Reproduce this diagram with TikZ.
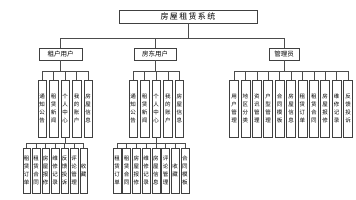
\documentclass[tikz,border=0pt]{standalone}
\usepackage{fontspec}
\setmainfont{Noto Sans CJK SC}
\usepackage{tikz}
\usetikzlibrary{positioning,calc}

\begin{document}
\begin{tikzpicture}[
    x=1pt, y=1pt,
    box/.style={draw=black!75, line width=0.5pt, inner sep=0pt, align=center},
    topbox/.style={box, minimum width=138, minimum height=13, font=\fontsize{8}{9}\selectfont},
    rolebox/.style={box, minimum height=12, font=\fontsize{6.5}{7}\selectfont},
    vbox/.style={box, minimum width=8.5, minimum height=57, font=\fontsize{5.5}{8}\selectfont},
    subbox/.style={box, minimum width=7.5, minimum height=45, font=\fontsize{5.5}{8}\selectfont},
    link/.style={draw=black!70, line width=0.5pt},
  ]
    \useasboundingbox (0,0) rectangle (356,200);

    % root and the three roles
    \node[topbox] (sys) at (188,183.5) {房\,屋\,租\,赁\,系\,统};
    \node[rolebox, minimum width=43] (ten) at (60.5,146) {租户用户};
    \node[rolebox, minimum width=42] (own) at (155,146) {房东用户};
    \node[rolebox, minimum width=30] (adm) at (284,146) {管理员};
    \foreach \r in {ten,own,adm}
      \draw[link] (sys.south) -- ++(0,-15) -| (\r.north);

    % tenant menu
    \foreach \i/\txt in {1/{通\\知\\公\\告}, 2/{租\\赁\\新\\闻}, 3/{个\\人\\中\\心},
                         4/{我\\的\\账\\户}, 5/{房\\屋\\信\\息}} {
      \node[vbox] (ten\i) at ({42+11.5*(\i-1)},91.5) {\txt};
      \draw[link] (ten.south) -- ++(0,-11) -| (ten\i.north);
    }

    % landlord menu
    \foreach \i/\txt in {1/{通\\知\\公\\告}, 2/{租\\赁\\新\\闻}, 3/{个\\人\\中\\心},
                         4/{我\\的\\账\\户}, 5/{房\\屋\\信\\息}} {
      \node[vbox] (own\i) at ({133+11.6*(\i-1)},91.5) {\txt};
      \draw[link] (own.south) -- ++(0,-11) -| (own\i.north);
    }

    % admin menu
    \foreach \i/\txt in {1/{用\\户\\管\\理}, 2/{地\\区\\分\\类}, 3/{资\\讯\\管\\理},
                         4/{户\\型\\管\\理}, 5/{合\\同\\模\\板}, 6/{房\\屋\\信\\息},
                         7/{租\\赁\\订\\单}, 8/{租\\赁\\合\\同}, 9/{房\\屋\\报\\修},
                         10/{维\\修\\记\\录}, 11/{反\\馈\\投\\诉}} {
      \node[vbox, minimum width=9] (adm\i) at ({234+11.4*(\i-1)},91.5) {\txt};
      \draw[link] (adm.south) -- ++(0,-11) -| (adm\i.north);
    }

    % tenant personal centre
    \foreach \i/\txt in {1/{租\\赁\\订\\单}, 2/{租\\赁\\合\\同}, 3/{房\\屋\\报\\修},
                         4/{维\\修\\记\\录}, 5/{反\\馈\\投\\诉}, 6/{评\\论\\管\\理},
                         7/{收\\藏}} {
      \node[subbox] (tc\i) at ({26.5+9.5*(\i-1)},29.5) {\txt};
      \draw[link] (ten3.south) -- ++(0,-6) -| (tc\i.north);
    }

    % landlord personal centre
    \foreach \i/\txt in {1/{租\\赁\\订\\单}, 2/{租\\赁\\合\\同}, 3/{房\\屋\\报\\修},
                         4/{维\\修\\记\\录}, 5/{房\\屋\\信\\息}, 6/{评\\论\\管\\理},
                         7/{收\\藏}, 8/{合\\同\\模\\板}} {
      \node[subbox, minimum width=8] (oc\i) at ({117+9.7*(\i-1)},29.5) {\txt};
      \draw[link] (own3.south) -- ++(0,-6) -| (oc\i.north);
    }
  \end{tikzpicture}
\end{document}
